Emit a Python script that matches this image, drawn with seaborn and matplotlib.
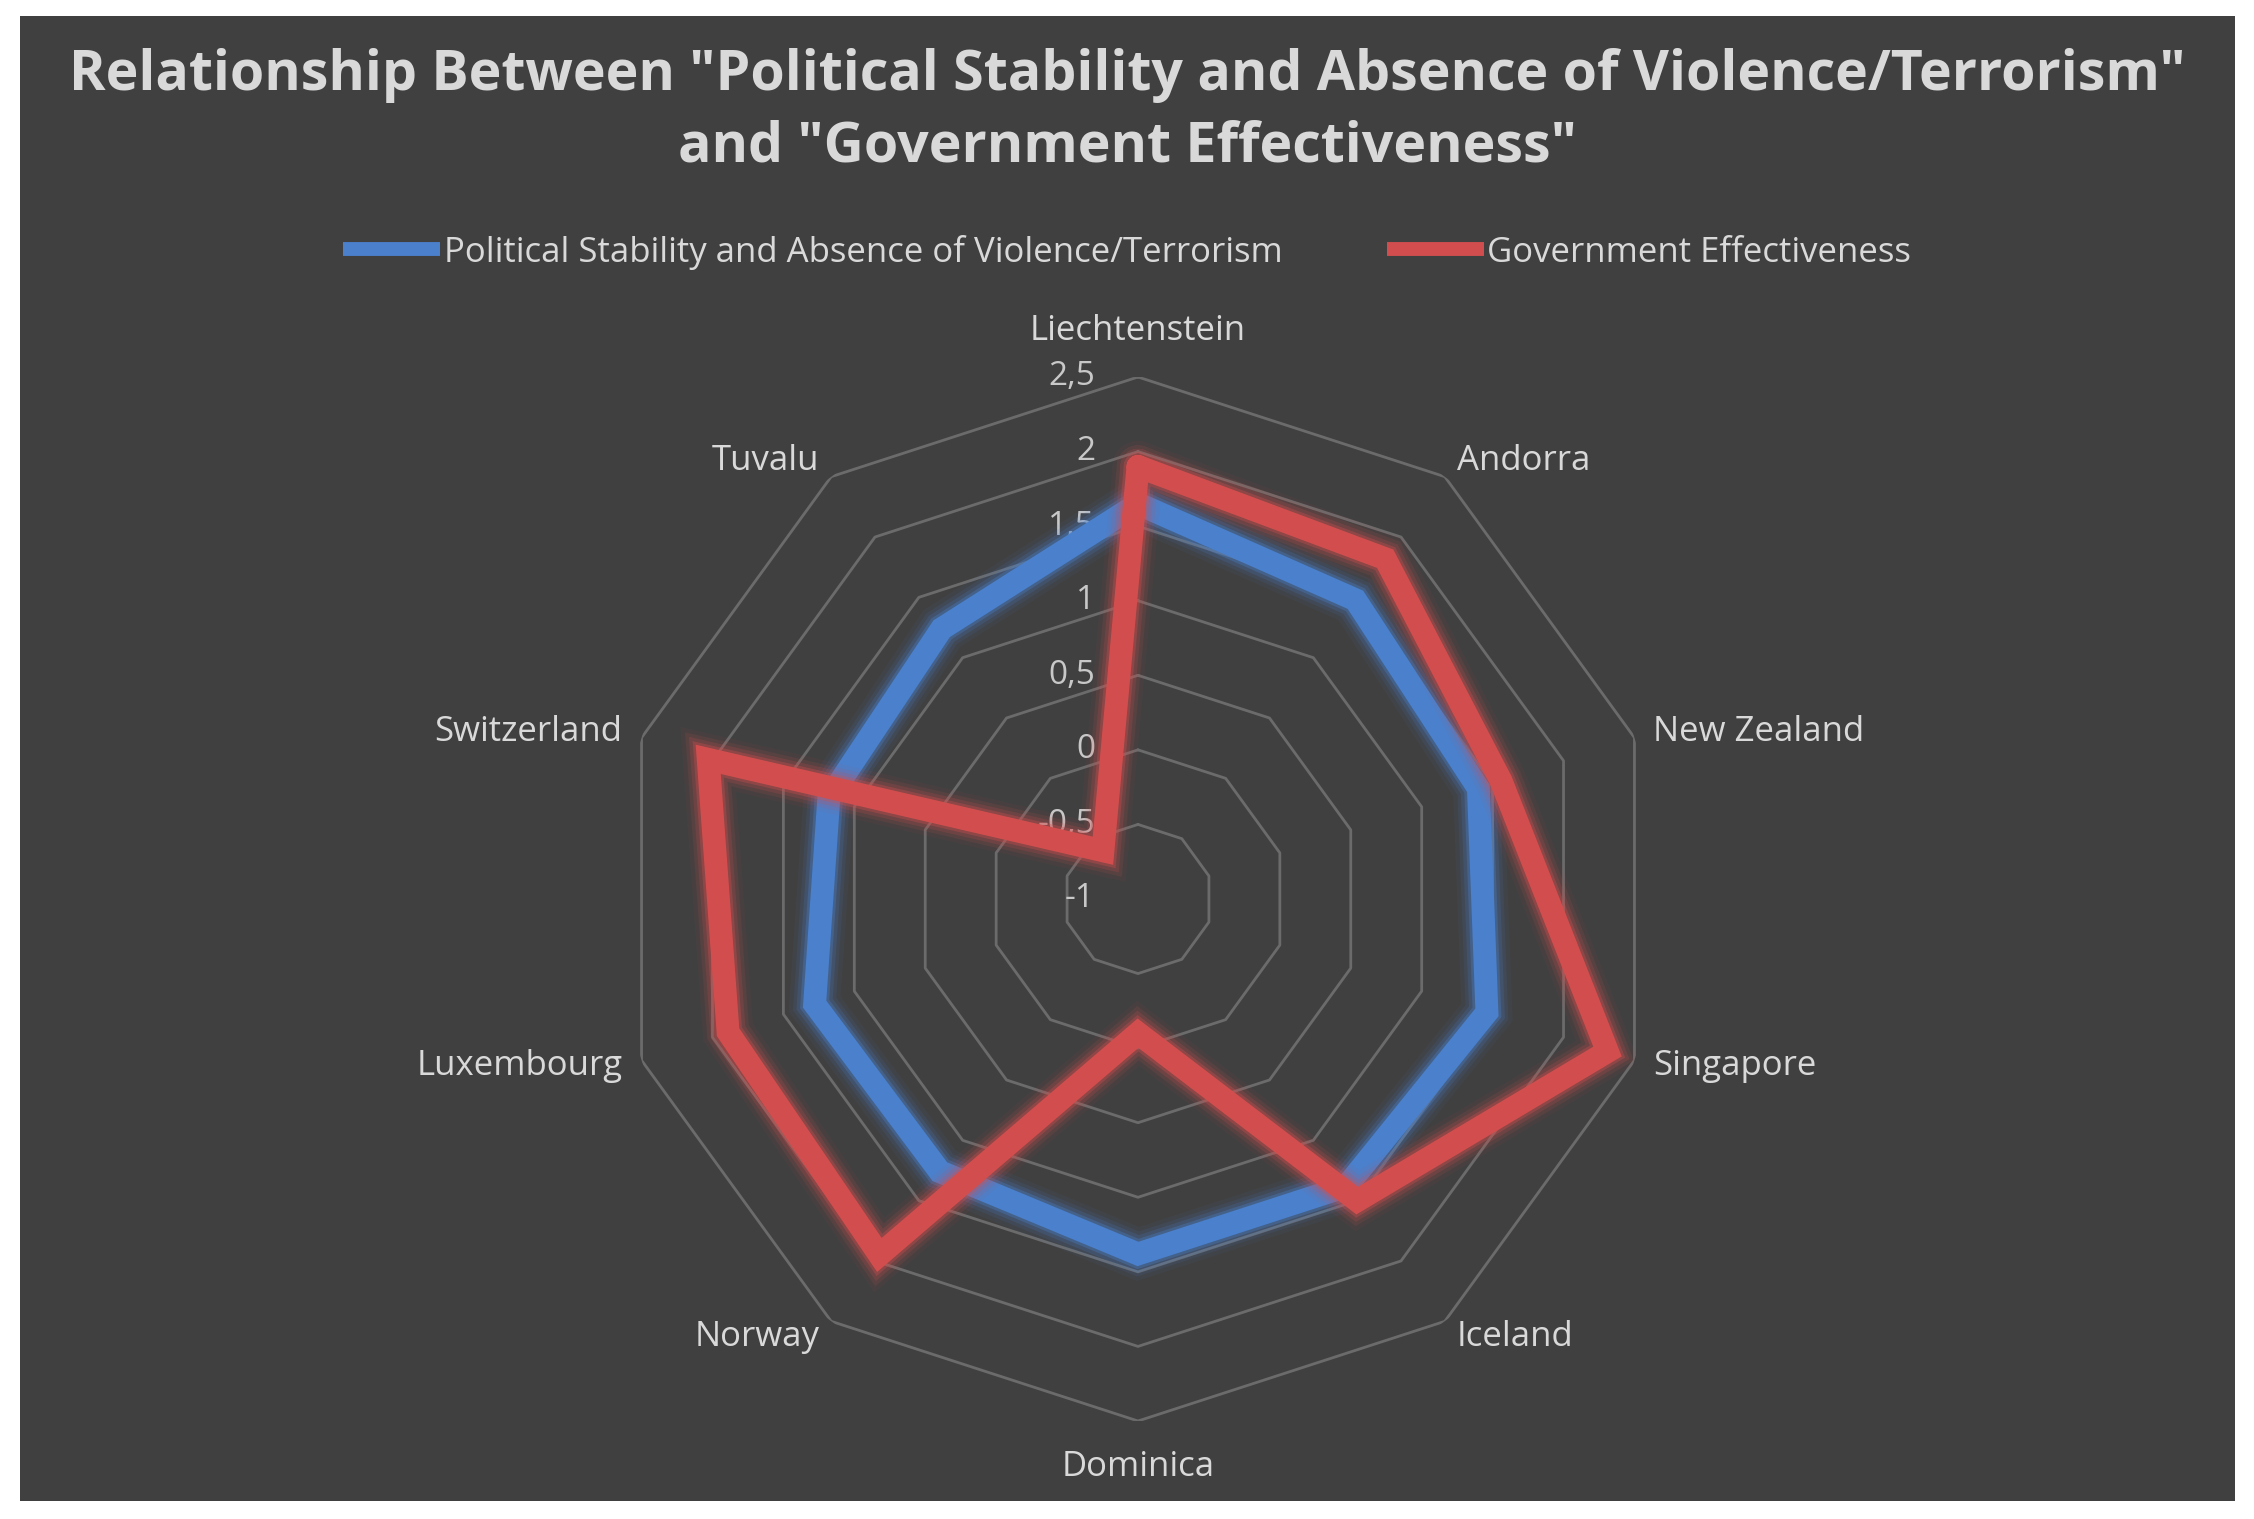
import numpy as np
import pandas as pd
import matplotlib.pyplot as plt
import matplotlib.patheffects as pe
from matplotlib.patches import Rectangle
from matplotlib.lines import Line2D
from matplotlib.transforms import offset_copy
import seaborn as sns

# data
countries = ["Liechtenstein", "Andorra", "New Zealand", "Singapore", "Iceland",
             "Dominica", "Norway", "Luxembourg", "Switzerland", "Tuvalu"]
stability = [1.65, 1.48, 1.40, 1.46, 1.38, 1.38, 1.26, 1.28, 1.18, 1.24]
effectiveness = [1.90, 1.82, 1.56, 2.31, 1.50, -0.10, 1.95, 1.89, 2.03, -0.60]
series_names = ["Political Stability and Absence of Violence/Terrorism",
                "Government Effectiveness"]
series_colors = ["#4a80cc", "#d24e4e"]
r_ticks = [-1, -0.5, 0, 0.5, 1, 1.5, 2, 2.5]
r_tick_labels = ["-1", "-0,5", "0", "0,5", "1", "1,5", "2", "2,5"]

title = ('Relationship Between "Political Stability and Absence of Violence/Terrorism"\n'
         'and "Government Effectiveness"')

bg = "#404040"
grid_color = "#6b6b6b"
text_color = "#d9d9d9"

sns.set_theme(style="dark")
plt.rcParams["font.family"] = ["Open Sans", "DejaVu Sans"]

n = len(countries)
angles = np.linspace(0, 2 * np.pi, n, endpoint=False)
angles_closed = np.append(angles, 2 * np.pi)

# long table for seaborn, polygon closed by repeating first point
rows = []
for name, vals in zip(series_names, [stability, effectiveness]):
    vals_closed = list(vals) + [vals[0]]
    for i, (a, v) in enumerate(zip(angles_closed, vals_closed)):
        rows.append({"series": name, "theta": a, "value": v, "order": i})
df = pd.DataFrame(rows)

W, H = 2254, 1519
fig = plt.figure(figsize=(W / 100, H / 100), dpi=100, facecolor="white")
# dark chart area with white frame
fig.add_artist(Rectangle((20 / W, 18 / H), (2235 - 20) / W, (1501 - 16) / H,
                         transform=fig.transFigure, facecolor=bg, edgecolor="none", zorder=0))

cx, cy, R = 1138, 899, 522
ax = fig.add_axes([(cx - R) / W, (H - cy - R) / H, 2 * R / W, 2 * R / H], projection="polar")
ax.set_facecolor("none")
ax.set_theta_zero_location("N")
ax.set_theta_direction(-1)
ax.grid(False)
ax.spines["polar"].set_visible(False)

# polygon grid rings
for t in r_ticks[1:]:
    ax.plot(angles_closed, [t] * (n + 1), color=grid_color, lw=2, zorder=1)

lw = 16.5
sns.lineplot(data=df, x="theta", y="value", hue="series", hue_order=series_names,
             palette=series_colors, sort=False, estimator=None, units="series",
             linewidth=lw, legend=False, ax=ax, zorder=3)

for line, color in zip(ax.lines[-2:], series_colors):
    line.set_solid_joinstyle("miter")
    glow = [pe.Stroke(linewidth=lw + w, foreground=color, alpha=a)
            for w, a in [(20, 0.06), (14, 0.11), (9, 0.18), (4, 0.33)]]
    line.set_path_effects(glow + [pe.Normal()])

ax.set_ylim(-1, 2.5)
ax.set_xticks([])
ax.set_yticks([])
ax.set_xlabel("")
ax.set_ylabel("")

# radial value labels, right-aligned next to the top spoke
tick_tr = offset_copy(ax.transData, fig=fig, x=-43, y=0, units="dots")
for t, lab in zip(r_ticks, r_tick_labels):
    ax.text(0, t, lab, transform=tick_tr, ha="right", va="center",
            color="#c8c8c8", fontsize=24, zorder=2)

# category labels outside the outer ring
for a, name in zip(angles, countries):
    s, c = np.sin(a), np.cos(a)
    if abs(s) < 0.1:
        ha, dx, dy = "center", 0, 46 * np.sign(c)
    else:
        ha = "left" if s > 0 else "right"
        dx, dy = 20 * s, 20 * c
    tr = offset_copy(ax.transData, fig=fig, x=dx, y=dy, units="dots")
    ax.text(a, r_ticks[-1], name, transform=tr, ha=ha, va="center",
            color=text_color, fontsize=25)

fig.text(0.5, 1 - 111 / H, title, ha="center", va="center", fontsize=40,
         fontweight="bold", color=text_color, linespacing=1.4)

handles = [Line2D([], [], color=c, lw=10, solid_capstyle="butt") for c in series_colors]
fig.legend(handles, series_names, loc="center", bbox_to_anchor=(0.5, 1 - 252 / H),
           ncol=2, frameon=False, fontsize=25, labelcolor=text_color,
           handlelength=2.8, handletextpad=0.1, columnspacing=3.0)

fig.savefig("out.png", dpi=100, facecolor="white")
